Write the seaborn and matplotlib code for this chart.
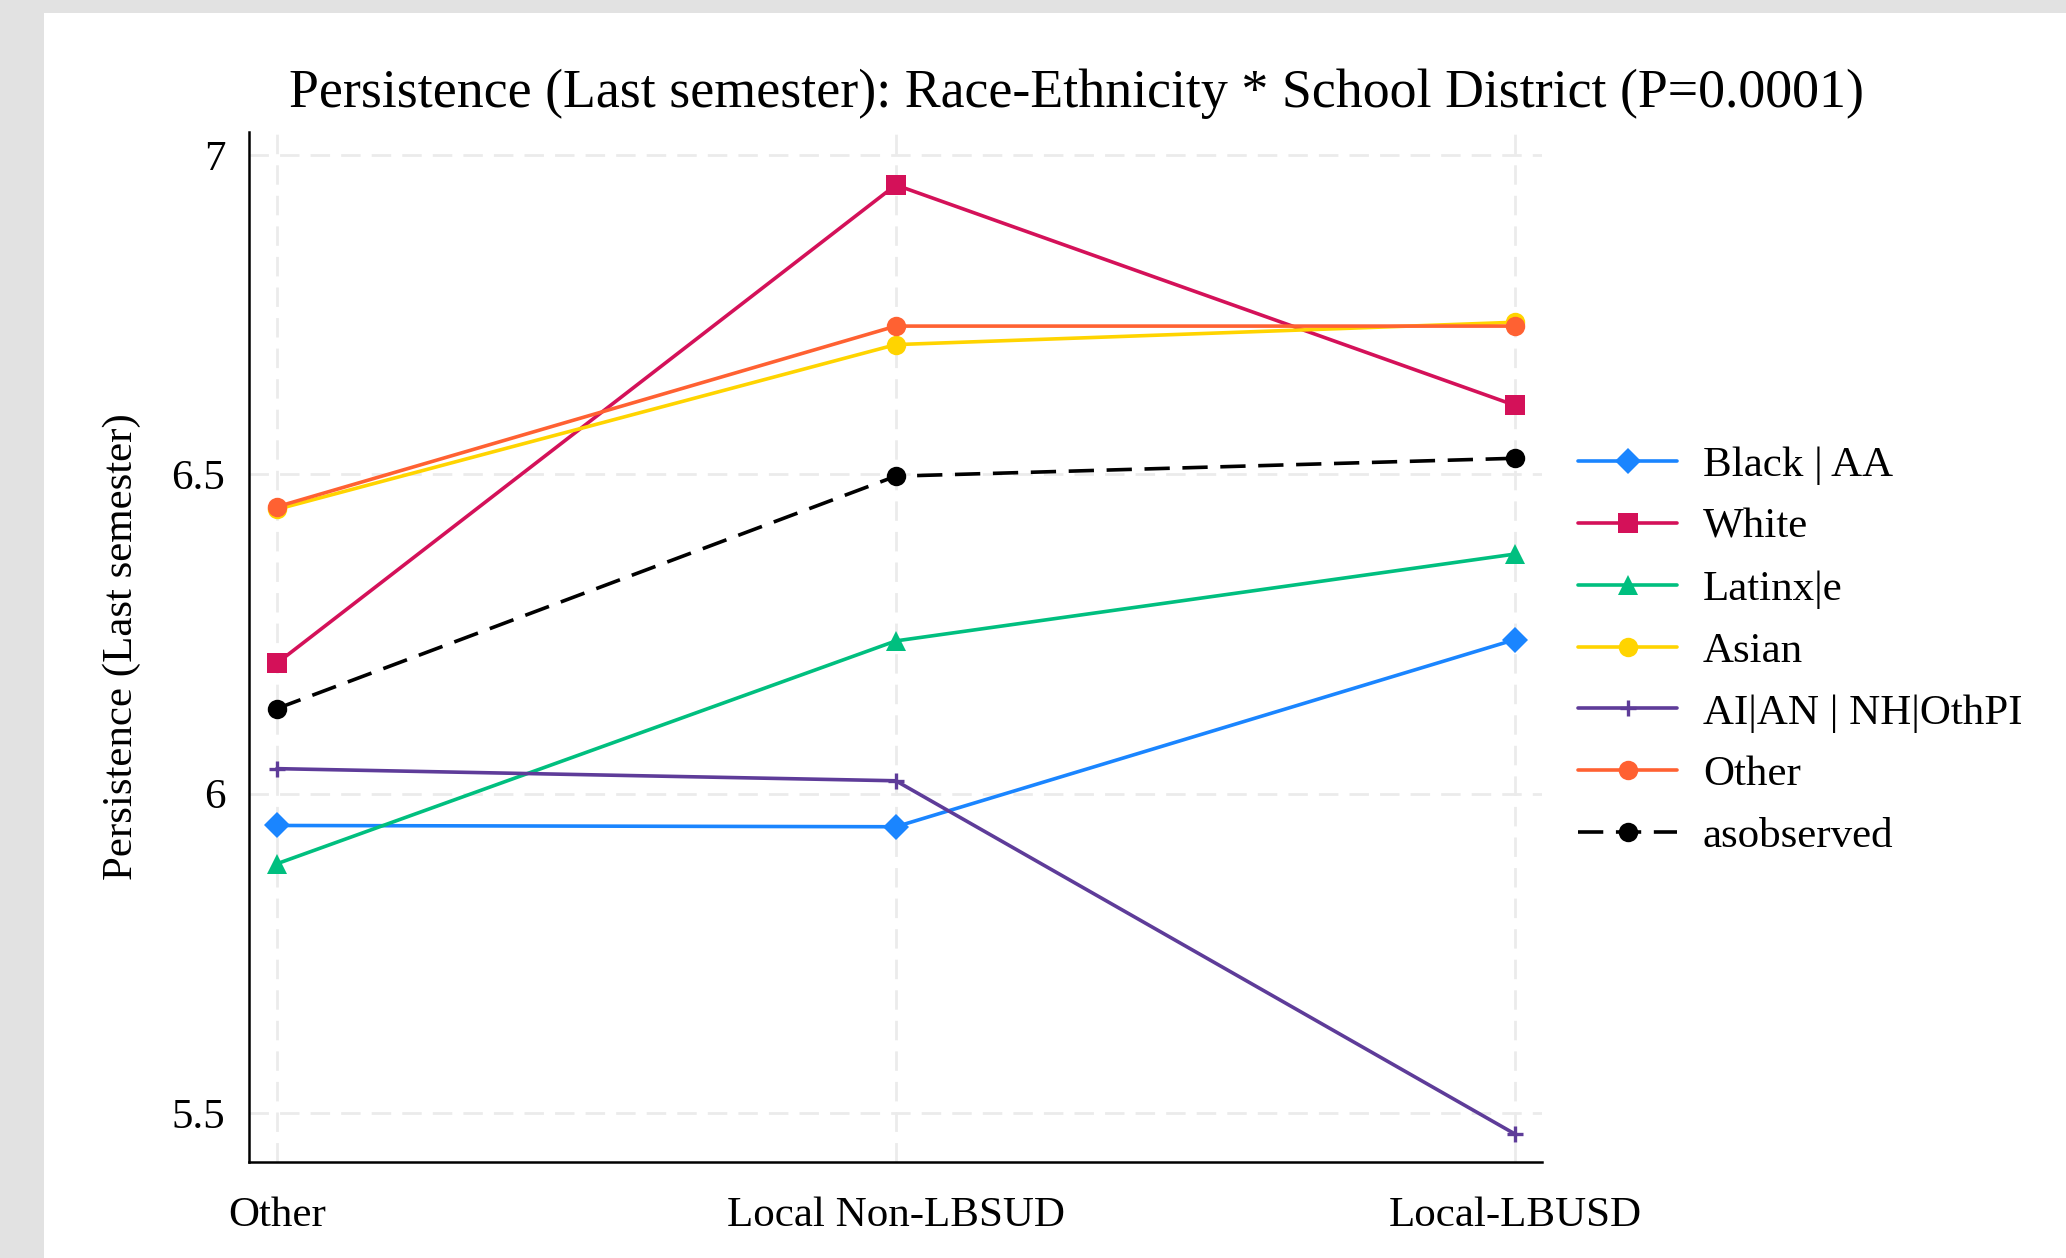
import matplotlib
matplotlib.use("Agg")
import matplotlib.pyplot as plt
from matplotlib.patches import Rectangle
import numpy as np
import pandas as pd
import seaborn as sns

# School district categories on the x axis
districts = ["Other", "Local Non-LBSUD", "Local-LBUSD"]

# Predicted persistence by race-ethnicity group
groups = ["Black | AA", "White", "Latinx|e", "Asian", "AI|AN | NH|OthPI", "Other", "asobserved"]
black_aa = [5.950, 5.948, 6.241]
white = [6.204, 6.953, 6.608]
latinx = [5.890, 6.239, 6.375]
asian = [6.445, 6.703, 6.738]
aian_nhpi = [6.039, 6.020, 5.467]
other = [6.449, 6.732, 6.732]
asobserved = [6.133, 6.497, 6.525]

y_ticks = [5.5, 6, 6.5, 7]
y_tick_labels = ["5.5", "6", "6.5", "7"]

colors = ["#1a85ff", "#d41159", "#00bf7f", "#ffd400", "#5e3c99", "#ff6132", "#000000"]
markers = ["D", "s", "^", "o", "P", "o", "o"]

series = [black_aa, white, latinx, asian, aian_nhpi, other, asobserved]
rows = []
for g, vals in zip(groups, series):
    for i, v in enumerate(vals):
        rows.append({"district": i, "value": v, "group": g})
df = pd.DataFrame(rows)

sns.set_theme(style="white")
plt.rcParams["font.family"] = ["Liberation Serif", "DejaVu Serif"]
plt.rcParams["text.color"] = "black"
plt.rcParams["axes.labelcolor"] = "black"

fig = plt.figure(figsize=(20.66, 12.58), dpi=100)
fig.patch.set_facecolor("#e2e2e2")
fig.add_artist(Rectangle((44 / 2066, 0), 1 - 44 / 2066, 1 - 13 / 1258,
                         transform=fig.transFigure, facecolor="white",
                         edgecolor="none", zorder=0))

ax = fig.add_axes([0.1205, 0.0763, 0.7464 - 0.1205, 0.8951 - 0.0763])
ax.set_facecolor("white")

palette = dict(zip(groups, colors))
marker_map = dict(zip(groups, markers))
dash_map = {g: "" for g in groups}
dash_map["asobserved"] = (7, 3.5)

sns.lineplot(data=df, x="district", y="value", hue="group", style="group",
             hue_order=groups, style_order=groups, palette=palette,
             markers=marker_map, dashes=dash_map, linewidth=2.6,
             markersize=14, markeredgewidth=0, ax=ax, zorder=3)

def tune(line):
    line.set_linewidth(2.6)
    m = line.get_marker()
    if m == "P":
        # thin cross for the AI|AN | NH|OthPI series
        line.set_marker("+")
        line.set_markersize(12)
        line.set_markeredgewidth(2.4)
        line.set_markeredgecolor(line.get_color())
    elif m == "D":
        line.set_markersize(13)
    else:
        line.set_markersize(14)

for ln in ax.lines:
    tune(ln)

sns.move_legend(ax, loc="center left", bbox_to_anchor=(1578 / 2066, 1 - 651 / 1258),
                bbox_transform=fig.transFigure, title=None, frameon=False,
                fontsize=31, handlelength=2.3, handletextpad=0.6,
                labelspacing=0.53, borderpad=0, borderaxespad=0)
for h in ax.get_legend().legend_handles:
    tune(h)

ax.set_xlim(-0.045, 2.044)
ax.set_ylim(5.423, 7.036)
ax.set_xticks(range(len(districts)))
ax.set_xticklabels(districts)
ax.set_yticks(y_ticks)
ax.set_yticklabels(y_tick_labels)
ax.tick_params(axis="both", labelsize=31, colors="black", direction="out", width=1.6)
ax.tick_params(axis="x", length=11, pad=14)
ax.tick_params(axis="y", length=9, pad=8)

ax.grid(True, color="#ebebeb", linestyle=(0, (7, 4)), linewidth=2, zorder=0)
ax.set_axisbelow(True)

for s in ["top", "right"]:
    ax.spines[s].set_visible(False)
for s in ["left", "bottom"]:
    ax.spines[s].set_color("black")
    ax.spines[s].set_linewidth(1.8)

ax.set_xlabel("")
ax.set_ylabel("Persistence (Last semester)", fontsize=31, labelpad=22, color="black")

fig.text(0.521, 1 - 94 / 1258,
         "Persistence (Last semester): Race-Ethnicity * School District (P=0.0001)",
         ha="center", va="center", fontsize=38.8, color="black")

fig.savefig("out.png", dpi=100, facecolor=fig.get_facecolor())
